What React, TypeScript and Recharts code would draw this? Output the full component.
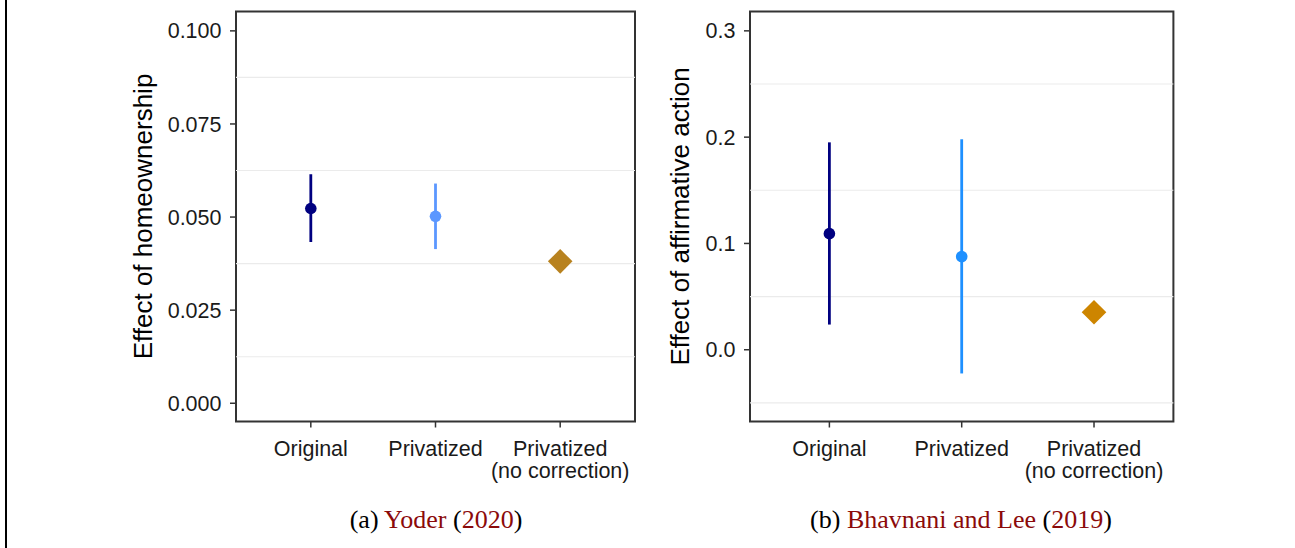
import {
  ScatterChart,
  Scatter,
  XAxis,
  YAxis,
  ErrorBar,
  ReferenceLine,
  ReferenceArea,
} from "recharts";

const SANS = "'Liberation Sans', Arial, Helvetica, sans-serif";
const SERIF = "'Liberation Serif', 'Times New Roman', serif";

// shared categories
const CATEGORIES = ["Original", "Privatized", "Privatized\n(no correction)"];
const CAT_X = [1, 2, 3];

// (a) Yoder (2020)
const YODER_EST = [0.0523, 0.0502, 0.0381];
const YODER_LO = [0.0433, 0.0414];
const YODER_HI = [0.0615, 0.059];
const YODER_TICKS = [0, 0.025, 0.05, 0.075, 0.1];
const YODER_MINOR = [0.0125, 0.0375, 0.0625, 0.0875];
const YODER_DOMAIN: [number, number] = [-0.0049, 0.1052];
const YODER_COLORS = ["#000080", "#5B97FF", "#B8821F"];

// (b) Bhavnani and Lee (2019)
const BL_EST = [0.1092, 0.0876, 0.0353];
const BL_LO = [0.0237, -0.0223];
const BL_HI = [0.1951, 0.198];
const BL_TICKS = [0, 0.1, 0.2, 0.3];
const BL_MINOR = [-0.05, 0.05, 0.15, 0.25];
const BL_DOMAIN: [number, number] = [-0.0675, 0.3182];
const BL_COLORS = ["#000080", "#1E90FF", "#CD8500"];

const X_DOMAIN: [number, number] = [0.4, 3.6];

const CatTick = ({ x, y, payload }: any) => {
  const lines = CATEGORIES[CAT_X.indexOf(payload.value)].split("\n");
  return (
    <text x={x} y={y} textAnchor="middle" fill="#1a1a1a" fontSize={21.5} fontFamily={SANS}>
      {lines.map((l, i) => (
        <tspan key={i} x={x} dy={i === 0 ? 24 : 22}>
          {l}
        </tspan>
      ))}
    </text>
  );
};

const circleShape = (color: string) => (p: any) =>
  <circle cx={p.cx} cy={p.cy} r={5.8} fill={color} />;

const diamondShape = (color: string) => (p: any) => {
  const s = 12.3;
  return (
    <polygon
      points={`${p.cx},${p.cy - s} ${p.cx + s},${p.cy} ${p.cx},${p.cy + s} ${p.cx - s},${p.cy}`}
      fill={color}
    />
  );
};

interface PanelProps {
  est: number[];
  lo: number[];
  hi: number[];
  ticks: number[];
  minor: number[];
  domain: [number, number];
  decimals: number;
  colors: string[];
  yLabel: string;
  left: number;
  width: number;
  marginLeft: number;
  marginRight: number;
  labelOffset: number;
}

function Panel(p: PanelProps) {
  const withCi = [0, 1].map((i) => [
    { x: CAT_X[i], y: p.est[i], err: [p.est[i] - p.lo[i], p.hi[i] - p.est[i]] },
  ]);
  const noCorr = [{ x: CAT_X[2], y: p.est[2] }];
  return (
    <div style={{ position: "absolute", left: p.left, top: 0 }}>
      <ScatterChart
        width={p.width}
        height={548}
        margin={{ top: 11.5, right: p.marginRight, bottom: 66.5, left: p.marginLeft }}
      >
        {p.minor.map((v) => (
          <ReferenceLine key={v} y={v} stroke="#ebebeb" strokeWidth={1.1} />
        ))}
        <XAxis
          type="number"
          dataKey="x"
          domain={X_DOMAIN}
          ticks={CAT_X}
          allowDataOverflow
          axisLine={false}
          tickLine={{ stroke: "#333", strokeWidth: 1.5 }}
          tickSize={6}
          tickMargin={4}
          height={60}
          interval={0}
          tick={(t: any) => <CatTick {...t} />}
        />
        <YAxis
          type="number"
          dataKey="y"
          domain={p.domain}
          ticks={p.ticks}
          allowDataOverflow
          width={100}
          axisLine={false}
          tickLine={{ stroke: "#333", strokeWidth: 1.5 }}
          tickSize={6}
          tickMargin={8.5}
          interval={0}
          tickFormatter={(v: number) => v.toFixed(p.decimals)}
          tick={{ fill: "#1a1a1a", fontSize: 21.5, fontFamily: SANS }}
          label={{
            value: p.yLabel,
            angle: -90,
            position: "insideLeft",
            offset: p.labelOffset,
            style: { textAnchor: "middle", fontSize: 26, fill: "#000", fontFamily: SANS },
          }}
        />
        {withCi.map((d, i) => (
          <Scatter
            key={i}
            data={d}
            fill={p.colors[i]}
            shape={circleShape(p.colors[i])}
            isAnimationActive={false}
          >
            <ErrorBar
              dataKey="err"
              direction="y"
              width={0}
              stroke={p.colors[i]}
              strokeWidth={2.8}
              isAnimationActive={false}
            />
          </Scatter>
        ))}
        <Scatter
          data={noCorr}
          fill={p.colors[2]}
          shape={diamondShape(p.colors[2])}
          isAnimationActive={false}
        />
        <ReferenceArea
          x1={X_DOMAIN[0]}
          x2={X_DOMAIN[1]}
          y1={p.domain[0]}
          y2={p.domain[1]}
          fill="none"
          fillOpacity={0}
          stroke="#333"
          strokeWidth={2}
        />
      </ScatterChart>
    </div>
  );
}

export default function App() {
  const red = "#8B0A0A";
  return (
    <div style={{ position: "absolute", left: 0, top: 0, width: 1295, height: 548, background: "#fff" }}>
      <Panel
        est={YODER_EST}
        lo={YODER_LO}
        hi={YODER_HI}
        ticks={YODER_TICKS}
        minor={YODER_MINOR}
        domain={YODER_DOMAIN}
        decimals={3}
        colors={YODER_COLORS}
        yLabel="Effect of homeownership"
        left={0}
        width={660}
        marginLeft={136}
        marginRight={25}
        labelOffset={6.5}
      />
      <Panel
        est={BL_EST}
        lo={BL_LO}
        hi={BL_HI}
        ticks={BL_TICKS}
        minor={BL_MINOR}
        domain={BL_DOMAIN}
        decimals={1}
        colors={BL_COLORS}
        yLabel="Effect of affirmative action"
        left={640}
        width={655}
        marginLeft={10}
        marginRight={121.6}
        labelOffset={29.4}
      />
      <svg
        width={1295}
        height={548}
        style={{ position: "absolute", left: 0, top: 0, pointerEvents: "none" }}
      >
        <line x1={6} y1={0} x2={6} y2={548} stroke="#000" strokeWidth={2} />
        <text x={436} y={528} textAnchor="middle" fontFamily={SERIF} fontSize={26} fill="#000">
          (a) <tspan fill={red}>Yoder</tspan> (<tspan fill={red}>2020</tspan>)
        </text>
        <text x={961} y={528} textAnchor="middle" fontFamily={SERIF} fontSize={26} fill="#000">
          (b) <tspan fill={red}>Bhavnani and Lee</tspan> (<tspan fill={red}>2019</tspan>)
        </text>
      </svg>
    </div>
  );
}
